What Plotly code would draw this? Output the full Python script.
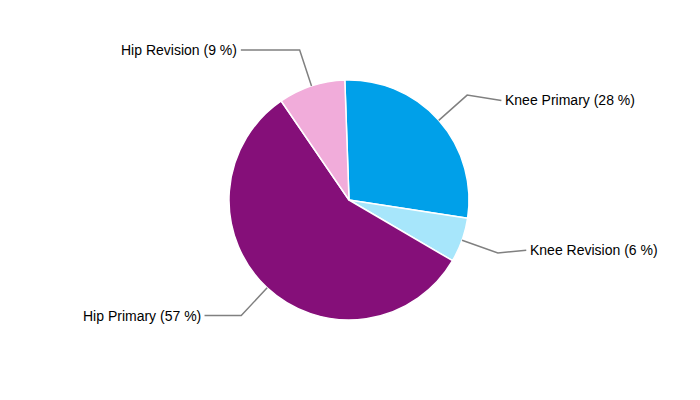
import math
import plotly.graph_objects as go

categories = ["Knee Primary", "Knee Revision", "Hip Primary", "Hip Revision"]
shares = [28, 6, 57, 9]
colors = ["#00A0E9", "#A7E6FB", "#850F79", "#F1ACDA"]

W, H = 700, 400
# page body adds an 8px offset, so pie centre is placed accordingly
cx, cy, r = 341, 192, 120
rotation = -2

fig = go.Figure(go.Pie(
    labels=categories, values=shares, sort=False, direction="clockwise",
    rotation=rotation, textinfo="none", hoverinfo="label+percent",
    marker=dict(colors=colors, line=dict(color="white", width=1.5)),
    domain=dict(x=[(cx - r) / W, (cx + r) / W], y=[1 - (cy + r) / H, 1 - (cy - r) / H]),
    showlegend=False,
))

def px(x):
    return x / W

def py(y):
    return 1 - y / H

total = sum(shares)
cum = 0
shapes = []
annotations = []
R_label = 185
for name, v in zip(categories, shares):
    mid = math.radians(rotation + (cum + v / 2) / total * 360)
    cum += v
    sx, sy = cx + r * math.sin(mid), cy - r * math.cos(mid)
    ex, ey = cx + 158 * math.sin(mid), cy - 158 * math.cos(mid)
    dy = ey - cy
    right = math.sin(mid) >= 0
    dx = math.sqrt(max(R_label ** 2 - dy ** 2, 0))
    lx = cx + dx if right else cx - dx
    ly = cy - (r + 30) * math.cos(mid) if right else ey
    path = f"M {px(sx)} {py(sy)} L {px(ex)} {py(ey)} L {px(lx)} {py(ly)}"
    shapes.append(dict(type="path", xref="paper", yref="paper", path=path,
                       line=dict(color="#808080", width=1.5)))
    annotations.append(dict(
        x=px(lx + (2 if right else -2)), y=py(ly), xref="paper", yref="paper",
        text=f"{name} ({v} %)", showarrow=False,
        xanchor="left" if right else "right", yanchor="middle",
        font=dict(family="Liberation Sans, Arial, sans-serif", size=14, color="#000000"),
    ))

fig.update_layout(
    width=W, height=H, margin=dict(l=0, r=0, t=0, b=0),
    paper_bgcolor="white", plot_bgcolor="white",
    shapes=shapes, annotations=annotations,
)

fig.write_html("out.html")
